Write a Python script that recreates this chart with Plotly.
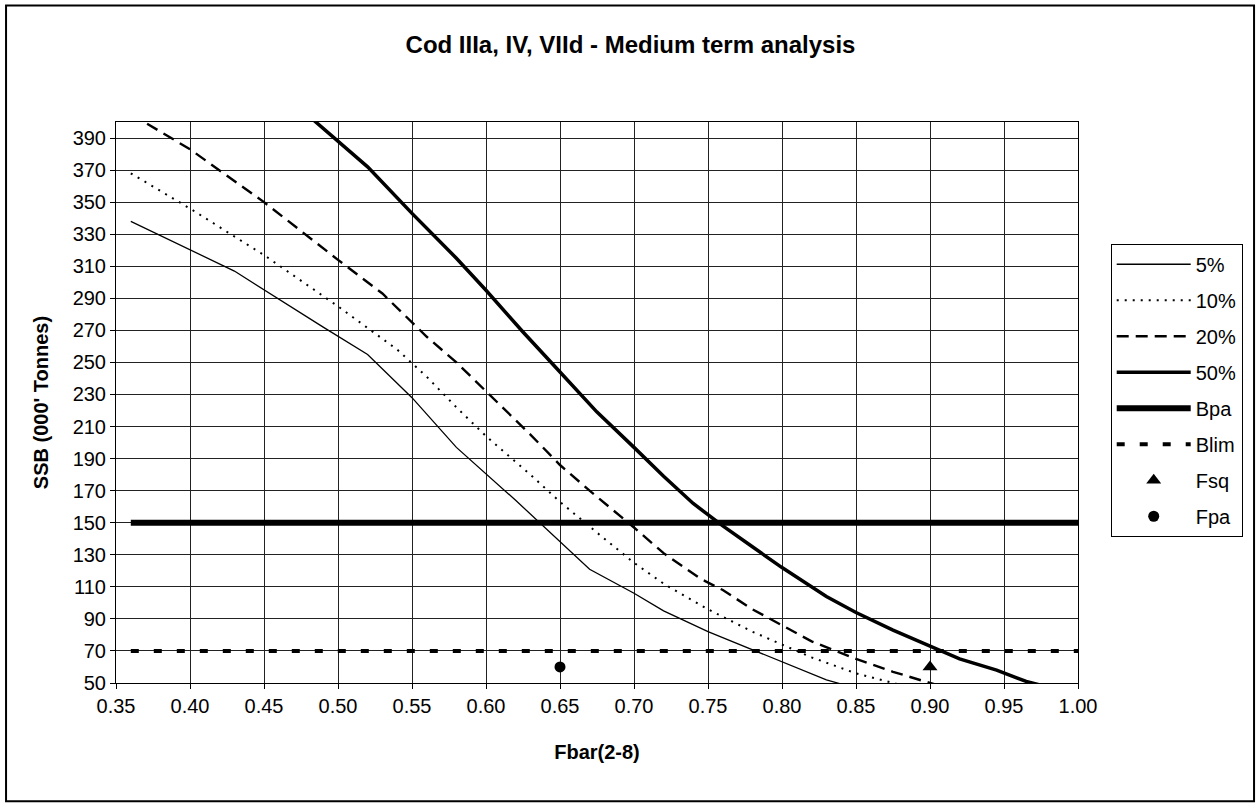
import plotly.graph_objects as go

# ---- data ----
f_5 = [0.36, 0.43, 0.49, 0.52, 0.55, 0.58, 0.62, 0.65, 0.67, 0.70, 0.72, 0.75, 0.80, 0.83, 0.86]
ssb_5 = [338, 307, 272, 255, 228, 197, 164, 138, 121, 106, 95, 82, 63, 52, 44]

f_10 = [0.36, 0.40, 0.45, 0.50, 0.54, 0.56, 0.58, 0.60, 0.63, 0.65, 0.68, 0.70, 0.72, 0.75, 0.78, 0.80, 0.82, 0.85, 0.87, 0.90]
ssb_10 = [368, 346, 317, 285, 258, 241, 222, 204, 180, 163, 140, 125, 112, 96, 82, 74, 66, 56, 51, 44]

f_20 = [0.36, 0.40, 0.45, 0.50, 0.53, 0.56, 0.58, 0.60, 0.63, 0.65, 0.67, 0.70, 0.72, 0.745, 0.76, 0.78, 0.80, 0.82, 0.85, 0.875, 0.90, 0.92]
ssb_20 = [405, 383, 350, 314, 293, 266, 250, 232, 205, 186, 170, 147, 131, 115, 108, 96, 86, 76, 65, 57, 50, 45]

f_50 = [0.47, 0.50, 0.52, 0.55, 0.58, 0.60, 0.625, 0.65, 0.675, 0.70, 0.72, 0.74, 0.76, 0.78, 0.80, 0.83, 0.85, 0.875, 0.90, 0.92, 0.945, 0.965, 0.99]
ssb_50 = [412, 388, 372, 343, 315, 295, 269, 244, 219, 197, 179, 162, 148, 135, 122, 104, 94, 83, 73, 65, 58, 51, 45]

f_ref = [0.36, 1.00]
bpa = [150, 150]
blim = [70, 70]

fsq_f = [0.90]
fsq_ssb = [60]
fpa_f = [0.65]
fpa_ssb = [60]

x_ticks = [0.35, 0.40, 0.45, 0.50, 0.55, 0.60, 0.65, 0.70, 0.75, 0.80, 0.85, 0.90, 0.95, 1.00]
y_ticks = list(range(50, 400, 20))

FONT = "Liberation Sans, Arial, sans-serif"

fig = go.Figure()
fig.add_trace(go.Scatter(x=f_5, y=ssb_5, mode="lines", name="5%", legendgroup="a",
                         line=dict(color="black", width=1.3)))
fig.add_trace(go.Scatter(x=f_10, y=ssb_10, mode="lines", name="10%", legendgroup="b",
                         line=dict(color="black", width=2, dash="2px,6px")))
fig.add_trace(go.Scatter(x=f_20, y=ssb_20, mode="lines", name="20%", legendgroup="c",
                         line=dict(color="black", width=2.4, dash="12px,7px")))
fig.add_trace(go.Scatter(x=f_50, y=ssb_50, mode="lines", name="50%", legendgroup="d",
                         line=dict(color="black", width=3.5)))
fig.add_trace(go.Scatter(x=f_ref, y=bpa, mode="lines", name="Bpa", legendgroup="e",
                         line=dict(color="black", width=6)))
fig.add_trace(go.Scatter(x=f_ref, y=blim, mode="lines", name="Blim", legendgroup="f",
                         line=dict(color="black", width=4, dash="8px,15px")))
fig.add_trace(go.Scatter(x=fsq_f, y=fsq_ssb, mode="markers", name="Fsq", legendgroup="g",
                         marker=dict(symbol="triangle-up", size=13, color="black")))
fig.add_trace(go.Scatter(x=fpa_f, y=fpa_ssb, mode="markers", name="Fpa", legendgroup="h",
                         marker=dict(symbol="circle", size=11, color="black")))

axis_common = dict(
    showline=True, linecolor="black", linewidth=1, mirror=True,
    showgrid=True, gridcolor="#222", gridwidth=1, zeroline=False,
    ticks="outside", ticklen=5, tickcolor="black",
    tickfont=dict(family=FONT, size=20, color="black"),
)

fig.update_xaxes(range=[0.35, 1.0], tickvals=x_ticks, tickformat=".2f",
                 title=dict(text="<b>Fbar(2-8)</b>", font=dict(family=FONT, size=20, color="black"), standoff=28),
                 **axis_common)
fig.update_yaxes(range=[50, 400], tickvals=y_ticks,
                 title=dict(text="<b>SSB (000' Tonnes)</b>", font=dict(family=FONT, size=20, color="black"), standoff=18),
                 **axis_common)

fig.update_layout(
    width=1256, height=809,
    margin=dict(l=116, r=178, t=122, b=126, autoexpand=False),
    paper_bgcolor="white", plot_bgcolor="white",
    font=dict(family=FONT, size=20, color="black"),
    title=dict(text="<b>Cod IIIa, IV, VIId - Medium term analysis</b>",
               x=0.502, xanchor="center", xref="container",
               y=1 - 45 / 809, yanchor="middle", yref="container",
               font=dict(family=FONT, size=24, color="black")),
    legend=dict(x=1.034, y=0.783, xanchor="left", yanchor="top",
                bgcolor="white", bordercolor="black", borderwidth=1,
                font=dict(family=FONT, size=20, color="black"),
                itemwidth=74, tracegroupgap=7, traceorder="grouped"),
    shapes=[dict(type="rect", xref="paper", yref="paper",
                 x0=-0.1143, x1=1.183, y0=-0.211, y1=1.2075,
                 line=dict(color="black", width=2), fillcolor="rgba(0,0,0,0)", layer="below")],
)

fig.write_html("out.html", config={"displayModeBar": False},
               post_script="document.body.style.margin='0';")
